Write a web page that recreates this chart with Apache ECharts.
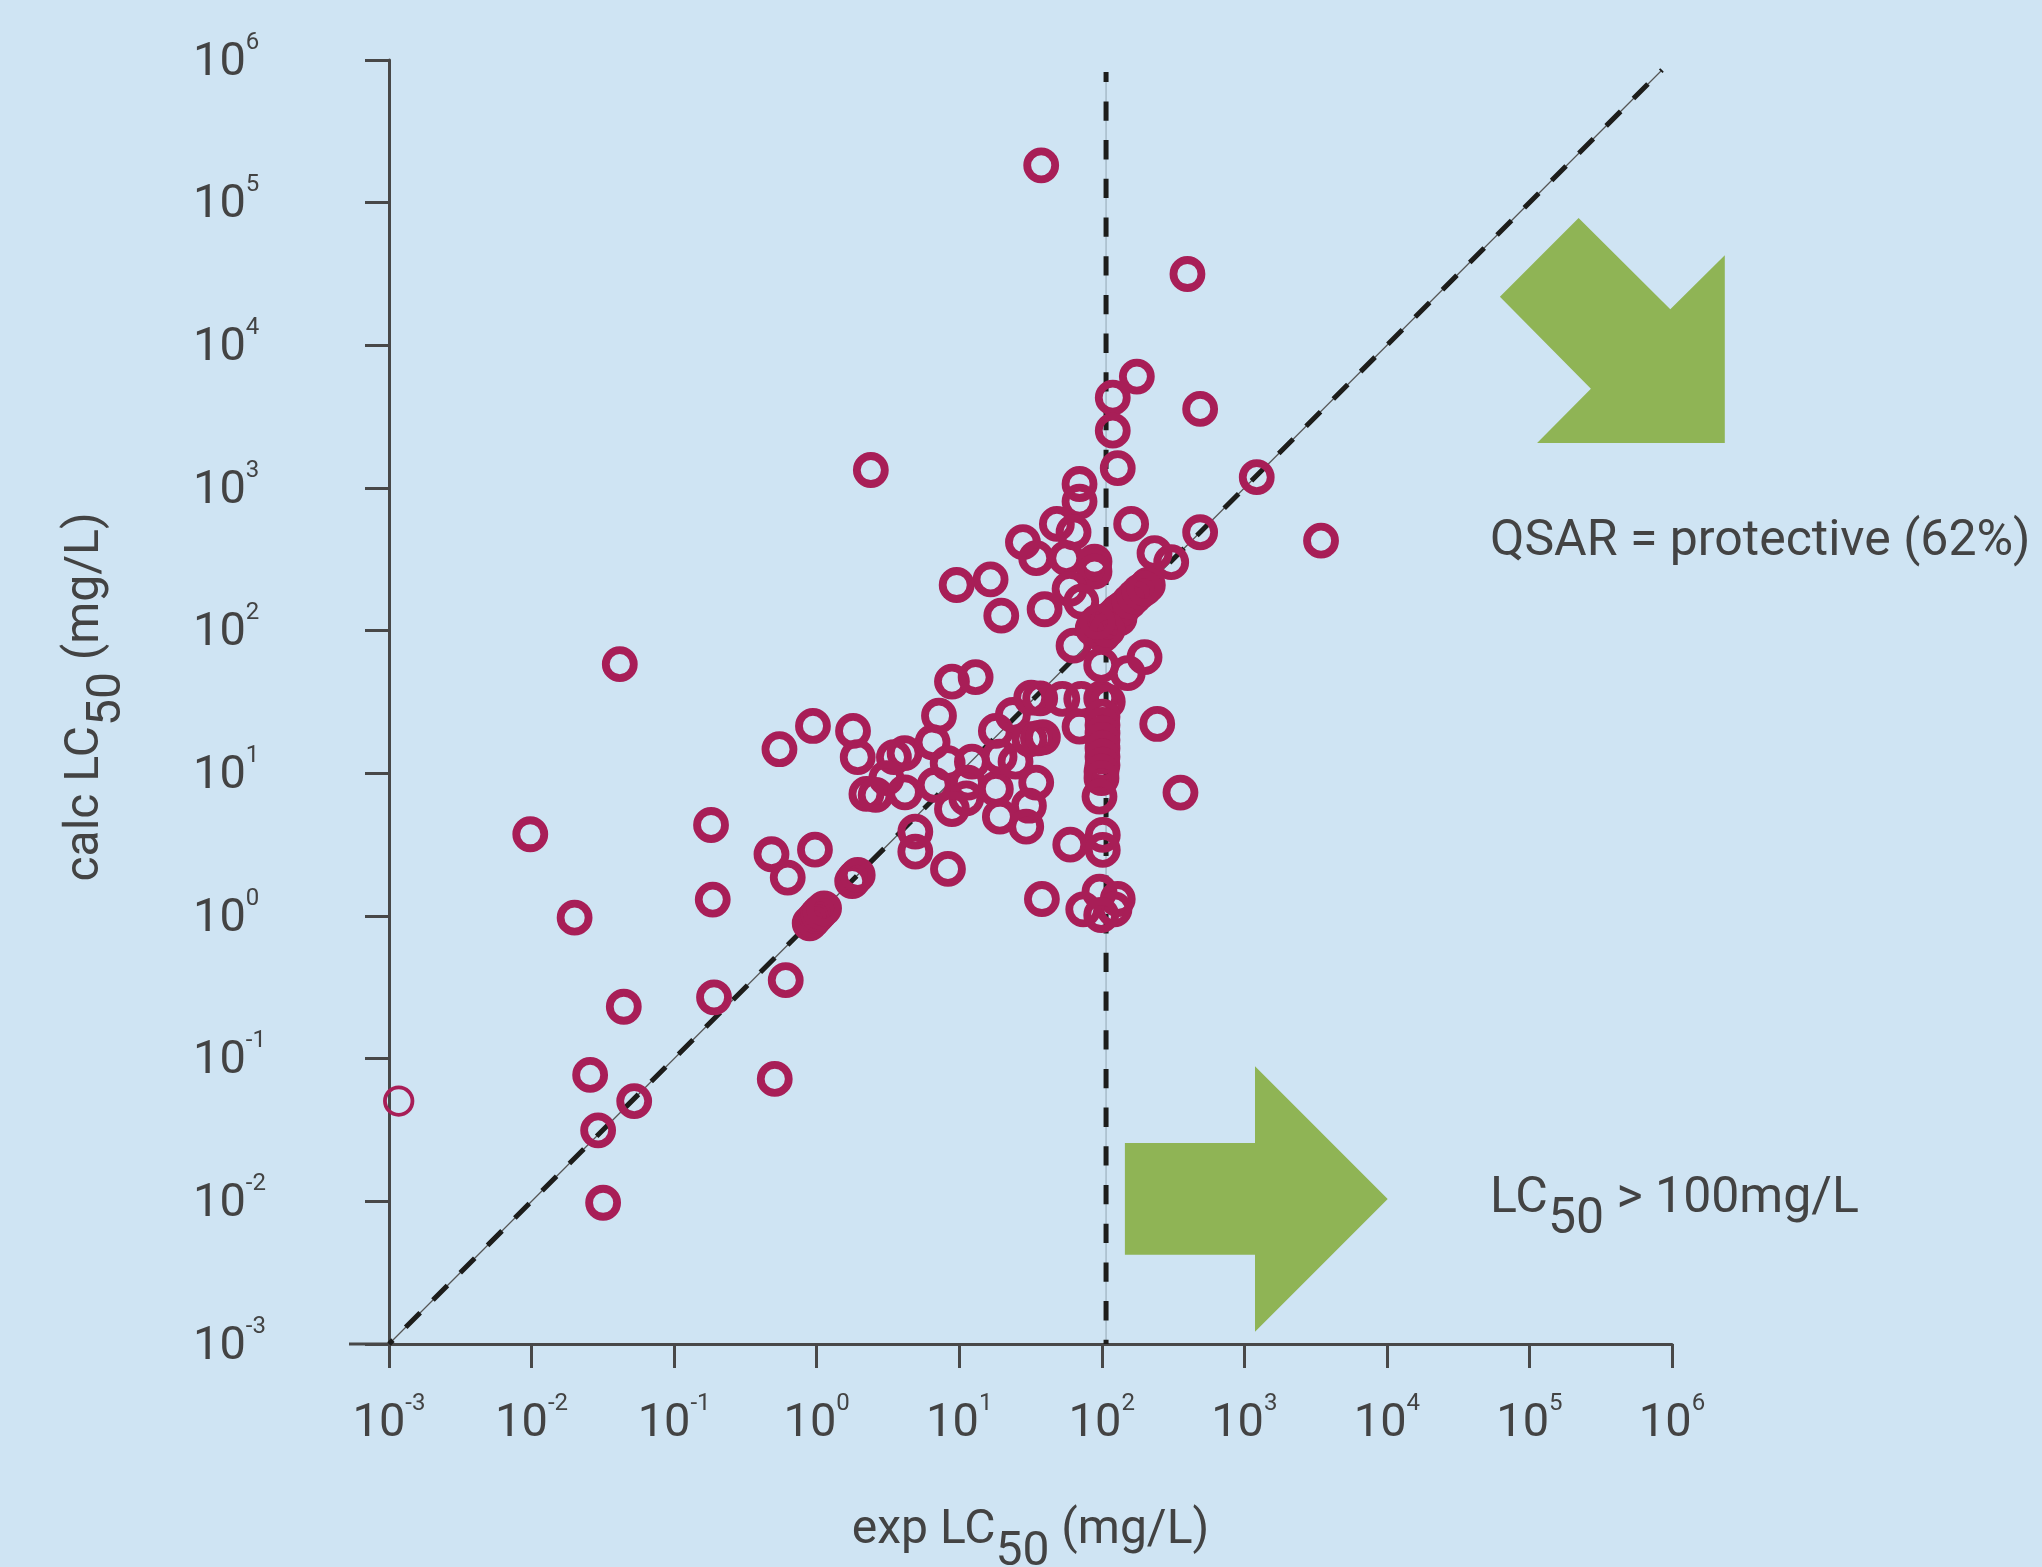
<!DOCTYPE html>
<html>
<head>
<meta charset="utf-8">
<style>html,body{margin:0;padding:0;background:#cfe4f3}#c{width:2042px;height:1567px}</style>
<script src="https://cdn.jsdelivr.net/npm/echarts@6/dist/echarts.min.js"></script>
</head>
<body>
<div id="c"></div>
<script>
// Values, as log10(mg/L)
const logExpLC50 = [
-2.009,-1.698,-0.741,-0.729,-0.317,-0.203,-0.012,-0.217,-1.353,-0.720,-1.589,-1.280,-1.533,-0.294,-1.498,
-0.049,-0.026,-0.002,0.011,0.026,0.052,0.249,0.267,0.288,
-0.026,0.255,0.288,-0.261,0.542,0.617,0.489,0.349,0.414,0.619,0.813,0.858,0.949,1.115,0.919,0.828,1.089,1.061,1.050,0.949,
1.257,1.283,1.395,1.257,1.376,1.505,1.568,1.493,1.552,1.587,1.540,1.489,1.285,1.470,0.692,0.692,0.921,1.779,2.007,2.007,1.580,
1.984,2.112,2.089,1.870,1.996,1.723,1.856,1.844,1.996,2.042,2.389,2.552,
2.005,2.005,2.005,2.005,2.005,2.005,2.005,1.998,1.998,1.984,
2.246,2.077,2.077,2.112,2.690,3.087,3.538,2.690,2.206,1.844,1.844,1.685,1.802,1.447,1.540,1.751,1.949,1.944,1.949,1.774,1.856,1.599,1.295,1.220,0.982,1.802,1.996,2.300,2.182,2.370,2.487,2.323,
1.972,2.007,1.937,2.007,2.042,2.077,2.124,2.112,2.147,2.194,2.229,2.265,2.300,2.040,1.970,
1.575,2.601,0.380,-1.381
];
const logCalcLC50 = [
0.573,-0.012,0.638,0.115,0.433,0.269,0.465,-0.450,-0.636,-0.570,-1.114,-1.297,-1.502,-1.142,-2.010,
-0.051,-0.028,0.000,0.014,0.030,0.054,0.245,0.267,0.288,
1.332,1.297,1.113,1.169,1.113,1.141,0.966,0.856,0.849,0.867,1.218,1.404,1.643,1.674,1.071,0.919,1.082,0.935,0.825,0.750,
0.891,1.117,1.082,1.297,1.409,1.530,1.526,1.239,1.246,1.253,0.935,0.773,0.696,0.626,0.591,0.451,0.330,0.500,0.568,0.463,0.119,
0.171,0.119,0.047,0.047,0.007,1.522,1.522,1.327,1.526,1.502,1.346,0.865,
1.397,1.339,1.281,1.234,1.176,1.117,1.059,1.012,0.966,0.837,
3.781,3.633,3.402,3.139,3.554,3.076,2.631,2.690,2.748,3.028,2.905,2.748,2.690,2.620,2.508,2.508,2.484,2.449,2.414,2.293,2.204,2.150,2.105,2.359,2.320,1.895,1.760,1.814,1.702,2.543,2.480,2.320,
1.993,1.970,2.017,2.028,2.063,2.098,2.087,2.133,2.157,2.204,2.239,2.273,2.297,2.005,2.061,
5.262,4.500,3.126,1.765
];
const logEdgeExp = [-2.932];
const logEdgeCalc = [-1.297];
const protectiveLine = [[-3,-3],[5.93,5.93]];
const thresholdLine = [[2.03,5.916],[2.03,-3]];
const exponents = [-3,-2,-1,0,1,2,3,4,5,6];

const INK = '#434343', RING = '#a81e57', GREEN = '#8fb455', FONT = 'Roboto';
const pow = v => Math.pow(10, v);
const pts = (xs, ys) => xs.map((x, i) => [pow(x), pow(ys[i])]);
const linePts = l => l.map(p => [pow(p[0]), pow(p[1])]);
const expLabel = v => {
  const e = Math.round(Math.log10(v));
  return exponents.includes(e) ? '{b|10}{s|' + e + '}' : '';
};
const tickRich = {
  b: {fontFamily: FONT, fontSize: 47, lineHeight: 65, color: INK},
  s: {fontFamily: FONT, fontSize: 24, lineHeight: 24, verticalAlign: 'top', color: INK}
};
const nameRich = {
  t: {fontFamily: FONT, fontSize: 48, lineHeight: 92, color: INK},
  u: {fontFamily: FONT, fontSize: 48, lineHeight: 24, verticalAlign: 'bottom', color: INK}
};
const calloutRich = {
  t: {fontFamily: FONT, fontSize: 50, lineHeight: 92, color: INK},
  u: {fontFamily: FONT, fontSize: 50, lineHeight: 24, verticalAlign: 'bottom', color: INK}
};
const axisCommon = {
  type: 'log', logBase: 10, min: 0.001, max: 1000000, interval: 1,
  nameLocation: 'middle',
  splitLine: {show: false}, minorTick: {show: false}, minorSplitLine: {show: false},
  axisLine: {show: true, onZero: false, lineStyle: {color: '#484848', width: 3}},
  axisTick: {show: true, length: 24, lineStyle: {color: '#484848', width: 3}}
};

const chart = echarts.init(document.getElementById('c'), null, {renderer: 'canvas'});
chart.setOption({
  animation: false,
  backgroundColor: '#cfe4f3',
  grid: {left: 389, top: 60, width: 1283, height: 1284, containLabel: false, outerBoundsMode: 'none'},
  xAxis: Object.assign({}, axisCommon, {
    name: '{t|exp LC}{u|50}{t| (mg/L)}', nameGap: 141,
    nameTextStyle: {rich: nameRich},
    axisLabel: {formatter: expLabel, margin: 48, rich: tickRich, hideOverlap: false, showMinLabel: true, showMaxLabel: true}
  }),
  yAxis: Object.assign({}, axisCommon, {
    name: '{t|calc LC}{u|50}{t| (mg/L)}', nameGap: 257,
    nameTextStyle: {rich: nameRich, padding: [0, 0, 0, 10]},
    axisLabel: {formatter: expLabel, margin: 196, align: 'left', padding: [6,0,0,0], rich: tickRich, hideOverlap: false, showMinLabel: true, showMaxLabel: true}
  }),
  series: [
    {type: 'line', data: linePts(protectiveLine), showSymbol: false, silent: true, z: 2, lineStyle: {color: '#555', width: 1.2}},
    {type: 'line', data: linePts(protectiveLine), showSymbol: false, silent: true, z: 3, lineStyle: {color: '#1d1d1b', width: 5, type: [20.5, 18.1], dashOffset: 15}},
    {type: 'line', data: linePts(thresholdLine), showSymbol: false, silent: true, z: 2, lineStyle: {color: '#9db0bd', width: 1.2}},
    {type: 'line', data: linePts(thresholdLine), showSymbol: false, silent: true, z: 3, lineStyle: {color: '#1d1d1b', width: 5, type: [19.3, 19.4], dashOffset: 9.3}},
    {type: 'scatter', data: pts(logExpLC50, logCalcLC50), symbol: 'circle', symbolSize: 28, clip: false, z: 5,
     itemStyle: {color: 'rgba(0,0,0,0)', borderColor: RING, borderWidth: 7.8, opacity: 1}},
    {type: 'scatter', data: pts(logEdgeExp, logEdgeCalc), symbol: 'circle', symbolSize: 27.5, clip: false, z: 5,
     itemStyle: {color: 'rgba(0,0,0,0)', borderColor: RING, borderWidth: 3.8, opacity: 1}}
  ],
  graphic: [
    {type: 'line', shape: {x1: 349, y1: 1344, x2: 389, y2: 1344}, style: {stroke: '#484848', lineWidth: 3}},
    {type: 'polygon', shape: {points: [[1578.6,218],[1670.3,309.3],[1724.8,255.3],[1724.8,443],[1537.1,443],[1590.9,388.7],[1499.9,296.7]]}, style: {fill: GREEN}},
    {type: 'polygon', shape: {points: [[1124.9,1142.9],[1255,1142.9],[1255,1066.2],[1387.7,1199],[1255,1331.8],[1255,1254.8],[1124.9,1254.8]]}, style: {fill: GREEN}},
    {type: 'text', x: 1490, y: 542, style: {text: 'QSAR = protective (62%)', fontFamily: FONT, fontSize: 50, fill: INK, verticalAlign: 'middle'}},
    {type: 'text', x: 1490, y: 1153, style: {text: '{t|LC}{u|50}{t| > 100mg/L}', rich: calloutRich, fontFamily: FONT, fontSize: 50, fill: INK}}
  ]
});
</script>
</body>
</html>
